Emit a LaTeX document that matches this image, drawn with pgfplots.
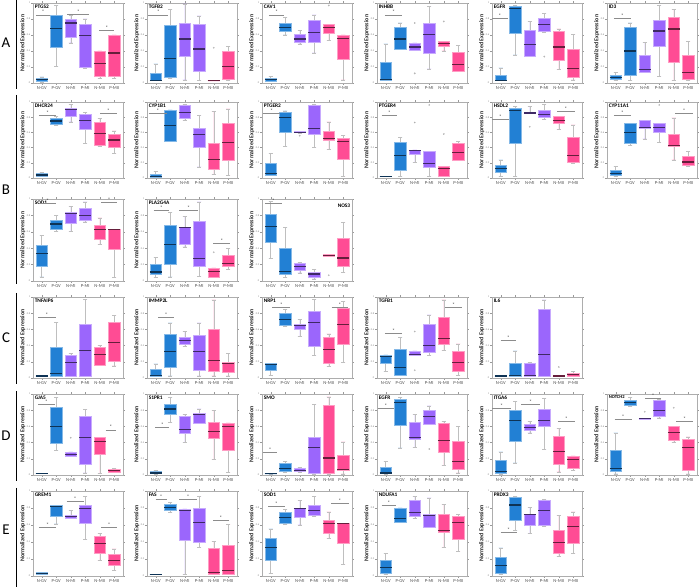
\documentclass[border=0pt]{standalone}
\usepackage{fontspec}
\setmainfont{Carlito}
\usepackage{pgfplots}
\pgfplotsset{compat=1.18}
\usepgfplotslibrary{statistics}
\definecolor{cA}{RGB}{34,128,212}
\definecolor{cB}{RGB}{155,102,252}
\definecolor{cC}{RGB}{255,76,148}
\newcommand{\gfont}{\fontsize{5.4}{6}\selectfont\bfseries}
\pgfplotsset{
  pan/.style={
    scale only axis, width=90bp, height=#1, anchor=south west,
    xmin=0.4, xmax=6.6, ymin=0, ymax=1, clip=false,
    xtick={1,...,6}, xticklabels={N-GV,P-GV,N-MI,P-MI,N-MII,P-MII},
    ytick={0,0.2,0.4,0.6,0.8,1},
    /pgf/number format/assume math mode=true,
    tick align=outside, major tick length=1.6bp,
    tick style={black!40, line width=0.3pt},
    x tick label style={font=\fontsize{4.6}{5}\selectfont, text=black!70, inner sep=1.5bp},
    y tick label style={font=\fontsize{2.6}{3}\selectfont, text=black!50, inner sep=1bp},
    axis line style={black!32, line width=0.9pt},
    ylabel={Normalized Expression},
    ylabel style={font=\fontsize{6}{7}\selectfont\bfseries, text=black!85, at={(axis description cs:-0.115,0.5)}, anchor=center},
  }
}
\newcommand{\bx}[8]{\addplot[
  boxplot/draw direction=y,
  boxplot prepared={draw direction=y, draw position=#1, lower whisker=#3, lower quartile=#4, median=#5, upper quartile=#6, upper whisker=#7, box extend=0.8, whisker extend=0.3},
  fill=#2, draw=#2!55!white, line width=0.7pt,
  boxplot/every whisker/.style={draw=black!25, line width=0.45pt},
  boxplot/every median/.style={draw=#2!40!black, line width=1.1pt},
  mark=o, mark size=0.7pt, mark options={draw=black!35, fill=white, line width=0.3pt}
] coordinates {#8};}
\newcommand{\sig}[3]{\draw[black!45, line width=0.9pt] (axis cs:#1,#3) -- (axis cs:#2,#3) node[midway, above, inner sep=0.6bp, font=\fontsize{5}{5}\selectfont, text=black!85]{*};}
\newcommand{\gname}[1]{\node[anchor=north west, inner sep=1.6bp, font=\gfont] at (rel axis cs:0,1) {#1};}
\begin{document}
\begin{tikzpicture}
\path[use as bounding box] (0,0) rectangle (700bp,587bp);
% row letters and lines
\node[font=\fontsize{15}{16}\selectfont] at (6bp,544bp) {A};
\node[font=\fontsize{15}{16}\selectfont] at (6bp,397bp) {B};
\node[font=\fontsize{15}{16}\selectfont] at (6bp,249bp) {C};
\node[font=\fontsize{15}{16}\selectfont] at (6bp,151bp) {D};
\node[font=\fontsize{15}{16}\selectfont] at (6bp,57bp) {E};
\draw[line width=0.8pt] (16.5bp,587bp) -- (16.5bp,498bp);
\draw[line width=0.8pt] (16.5bp,492bp) -- (16.5bp,303bp);
\draw[line width=0.8pt] (16.5bp,294bp) -- (16.5bp,203bp);
\draw[line width=0.8pt] (16.5bp,196bp) -- (16.5bp,106bp);
\draw[line width=0.8pt] (16.5bp,99bp) -- (16.5bp,0bp);

% ================= ROW A =================
\begin{axis}[pan=80bp, at={(33bp,504bp)}]
\gname{PTGS2}
\bx{1}{cA}{0.015}{0.02}{0.04}{0.06}{0.075}{}
\bx{2}{cA}{0.21}{0.44}{0.68}{0.84}{0.97}{}
\bx{3}{cB}{0.5}{0.575}{0.75}{0.80}{0.85}{}
\bx{4}{cB}{0.19}{0.196}{0.59}{0.73}{0.80}{}
\bx{5}{cC}{0.06}{0.083}{0.24}{0.40}{0.40}{}
\bx{6}{cC}{0.054}{0.083}{0.375}{0.60}{0.60}{}
\sig{0.6}{1.6}{0.85}\sig{2.77}{4.27}{0.86}\sig{4.96}{6.0}{0.66}
\end{axis}
\begin{axis}[pan=80bp, at={(147bp,504bp)}]
\gname{TGFB2}
\bx{1}{cA}{0.03}{0.03}{0.03}{0.125}{0.24}{}
\bx{2}{cA}{0.06}{0.07}{0.31}{0.72}{0.92}{}
\bx{3}{cB}{0.04}{0.33}{0.55}{0.75}{0.99}{}
\bx{4}{cB}{0.03}{0.15}{0.425}{0.73}{0.84}{}
\bx{5}{cC}{0.03}{0.03}{0.03}{0.03}{0.03}{(0,0.44)}
\bx{6}{cC}{0.03}{0.04}{0.21}{0.40}{0.46}{}
\sig{0.5}{1.88}{0.85}
\end{axis}
\begin{axis}[pan=80bp, at={(262bp,504bp)}]
\gname{CAV1}
\bx{1}{cA}{0.02}{0.025}{0.04}{0.06}{0.08}{}
\bx{2}{cA}{0.6}{0.64}{0.69}{0.75}{0.82}{}
\bx{3}{cB}{0.49}{0.51}{0.55}{0.61}{0.66}{}
\bx{4}{cB}{0.375}{0.51}{0.63}{0.78}{0.85}{}
\bx{5}{cC}{0.53}{0.62}{0.69}{0.73}{0.73}{(0,0.97)}
\bx{6}{cC}{0.04}{0.29}{0.56}{0.60}{0.60}{}
\sig{0.88}{1.94}{0.85}
\end{axis}
\begin{axis}[pan=80bp, at={(377bp,504bp)}]
\gname{INHBB}
\bx{1}{cA}{0.03}{0.03}{0.04}{0.26}{0.49}{}
\bx{2}{cA}{0.42}{0.42}{0.55}{0.69}{0.75}{}
\bx{3}{cB}{0.41}{0.41}{0.45}{0.50}{0.50}{(0,0.75) (0,0.12)}
\bx{4}{cB}{0.175}{0.375}{0.61}{0.75}{0.96}{}
\bx{5}{cC}{0.40}{0.46}{0.49}{0.52}{0.52}{(0,0.77)}
\bx{6}{cC}{0.15}{0.15}{0.23}{0.38}{0.47}{}
\sig{0.95}{2.14}{0.85}
\end{axis}
\begin{axis}[pan=80bp, at={(492bp,504bp)}]
\gname{EGFR}
\bx{1}{cA}{0.03}{0.03}{0.03}{0.10}{0.19}{}
\bx{2}{cA}{0.35}{0.625}{0.93}{0.96}{0.97}{}
\bx{3}{cB}{0.33}{0.33}{0.48}{0.66}{0.77}{}
\bx{4}{cB}{0.64}{0.64}{0.73}{0.81}{0.87}{(0,0.33)}
\bx{5}{cC}{0.17}{0.28}{0.45}{0.65}{0.675}{}
\bx{6}{cC}{0.04}{0.07}{0.18}{0.425}{0.61}{}
\sig{0.41}{1.47}{0.81}
\end{axis}
\begin{axis}[pan=80bp, at={(607bp,504bp)}]
\gname{ID3}
\bx{1}{cA}{0.03}{0.05}{0.07}{0.10}{0.13}{}
\bx{2}{cA}{0.03}{0.10}{0.40}{0.69}{0.75}{}
\bx{3}{cB}{0.13}{0.13}{0.17}{0.35}{0.51}{}
\bx{4}{cB}{0.08}{0.46}{0.65}{0.78}{0.97}{}
\bx{5}{cC}{0.03}{0.26}{0.675}{0.825}{0.92}{}
\bx{6}{cC}{0.03}{0.05}{0.13}{0.35}{0.52}{}
\sig{0.88}{2.02}{0.81}
\end{axis}

% ================= ROW B1 =================
\begin{axis}[pan=76bp, at={(33bp,409bp)}]
\gname{DHCR24}
\bx{1}{cA}{0.02}{0.025}{0.04}{0.06}{0.07}{}
\bx{2}{cA}{0.69}{0.71}{0.75}{0.78}{0.81}{}
\bx{3}{cB}{0.74}{0.81}{0.90}{0.91}{0.97}{}
\bx{4}{cB}{0.46}{0.64}{0.755}{0.84}{0.865}{}
\bx{5}{cC}{0.42}{0.43}{0.59}{0.73}{0.78}{}
\bx{6}{cC}{0.325}{0.40}{0.50}{0.57}{0.62}{}
\sig{0.81}{2.0}{0.82}\sig{5.02}{6.17}{0.845}
\end{axis}
\begin{axis}[pan=76bp, at={(147bp,409bp)}]
\gname{CYP1B1}
\bx{1}{cA}{0.01}{0.01}{0.025}{0.05}{0.085}{}
\bx{2}{cA}{0.485}{0.485}{0.69}{0.885}{0.895}{}
\bx{3}{cB}{0.76}{0.79}{0.86}{0.95}{0.97}{}
\bx{4}{cB}{0.145}{0.40}{0.575}{0.65}{0.82}{}
\bx{5}{cC}{0.05}{0.12}{0.24}{0.45}{0.88}{}
\bx{6}{cC}{0.03}{0.23}{0.47}{0.72}{0.91}{}
\sig{0.51}{1.8}{0.845}
\end{axis}
\begin{axis}[pan=76bp, at={(262bp,409bp)}]
\gname{PTGER2}
\bx{1}{cA}{0.03}{0.04}{0.06}{0.19}{0.325}{}
\bx{2}{cA}{0.42}{0.60}{0.80}{0.87}{0.885}{}
\bx{3}{cB}{0.595}{0.595}{0.60}{0.61}{0.61}{(0,0.557)}
\bx{4}{cB}{0.40}{0.58}{0.65}{0.96}{0.965}{}
\bx{5}{cC}{0.38}{0.49}{0.52}{0.62}{0.74}{}
\bx{6}{cC}{0.02}{0.24}{0.48}{0.52}{0.56}{}
\sig{0.47}{1.67}{0.845}
\end{axis}
\begin{axis}[pan=76bp, at={(377bp,409bp)}]
\gname{PTGER4}
\bx{1}{cA}{0.02}{0.02}{0.02}{0.02}{0.02}{}
\bx{2}{cA}{0.02}{0.10}{0.295}{0.47}{0.535}{}
\bx{3}{cB}{0.21}{0.31}{0.365}{0.37}{0.37}{(0,0.73)}
\bx{4}{cB}{0.02}{0.145}{0.185}{0.355}{0.355}{(0,0.96)}
\bx{5}{cC}{0.02}{0.02}{0.12}{0.15}{0.15}{(0,0.58)}
\bx{6}{cC}{0.23}{0.23}{0.34}{0.45}{0.485}{}
\sig{0.71}{1.79}{0.82}
\end{axis}
\begin{axis}[pan=76bp, at={(492bp,409bp)}]
\gname{HSDL2}
\bx{1}{cA}{0.02}{0.07}{0.125}{0.17}{0.24}{}
\bx{2}{cA}{0.02}{0.45}{0.885}{0.915}{0.945}{}
\bx{3}{cB}{0.85}{0.85}{0.855}{0.86}{0.94}{(0,0.675)}
\bx{4}{cB}{0.77}{0.80}{0.83}{0.895}{0.965}{}
\bx{5}{cC}{0.64}{0.72}{0.76}{0.81}{0.81}{}
\bx{6}{cC}{0.20}{0.20}{0.295}{0.535}{0.70}{}
\sig{0.37}{1.59}{0.77}\sig{4.87}{6.11}{0.875}
\end{axis}
\begin{axis}[pan=76bp, at={(607bp,409bp)}]
\gname{CYP11A1}
\bx{1}{cA}{0.02}{0.03}{0.06}{0.10}{0.155}{}
\bx{2}{cA}{0.43}{0.45}{0.60}{0.72}{0.72}{}
\bx{3}{cB}{0.515}{0.65}{0.66}{0.76}{0.76}{}
\bx{4}{cB}{0.47}{0.60}{0.66}{0.72}{0.72}{(0,0.96)}
\bx{5}{cC}{0.24}{0.41}{0.43}{0.57}{0.79}{}
\bx{6}{cC}{0.155}{0.17}{0.21}{0.28}{0.355}{}
\sig{0.88}{2.02}{0.82}\sig{5.1}{6.33}{0.845}
\end{axis}

% ================= ROW B2 =================
\begin{axis}[pan=82bp, at={(33bp,306bp)}]
\gname{SOD1}
\bx{1}{cA}{0.05}{0.175}{0.33}{0.44}{0.555}{}
\bx{2}{cA}{0.605}{0.625}{0.695}{0.74}{0.80}{}
\bx{3}{cB}{0.605}{0.70}{0.82}{0.84}{0.91}{}
\bx{4}{cB}{0.72}{0.735}{0.80}{0.88}{0.965}{}
\bx{5}{cC}{0.45}{0.51}{0.63}{0.675}{0.77}{}
\bx{6}{cC}{0.04}{0.38}{0.63}{0.63}{0.63}{}
\sig{0.81}{2.0}{0.94}\sig{5.1}{6.17}{0.96}
\end{axis}
\begin{axis}[pan=82bp, at={(147bp,306bp)}]
\gname{PLA2G4A}
\bx{1}{cA}{0.045}{0.08}{0.11}{0.20}{0.29}{}
\bx{2}{cA}{0.05}{0.20}{0.44}{0.68}{0.84}{}
\bx{3}{cB}{0.415}{0.45}{0.655}{0.655}{0.79}{}
\bx{4}{cB}{0.06}{0.18}{0.27}{0.73}{0.965}{}
\bx{5}{cC}{0.04}{0.045}{0.12}{0.16}{0.16}{(0,0.35)}
\bx{6}{cC}{0.14}{0.175}{0.21}{0.31}{0.40}{}
\sig{0.86}{1.92}{0.86}\sig{2.62}{3.91}{0.86}\sig{4.97}{6.14}{0.46}
\end{axis}
\begin{axis}[pan=82bp, at={(262bp,306bp)}]
\node[anchor=north east, inner sep=1.6bp, font=\gfont] at (rel axis cs:1,0.96) {NOS3};
\bx{1}{cA}{0.28}{0.47}{0.665}{0.81}{0.97}{}
\bx{2}{cA}{0.045}{0.08}{0.12}{0.395}{0.655}{}
\bx{3}{cB}{0.10}{0.13}{0.18}{0.22}{0.23}{}
\bx{4}{cB}{0.025}{0.05}{0.085}{0.11}{0.14}{}
\bx{5}{cC}{0.30}{0.30}{0.31}{0.32}{0.32}{(0,0.07)}
\bx{6}{cC}{0.105}{0.18}{0.28}{0.525}{0.715}{}
\sig{0.59}{1.79}{0.94}
\end{axis}

% ================= ROW C =================
\begin{axis}[pan=81bp, at={(33bp,209bp)}]
\gname{TNFAIP6}
\bx{1}{cA}{0.025}{0.025}{0.025}{0.025}{0.025}{}
\bx{2}{cA}{0.025}{0.025}{0.06}{0.375}{0.69}{}
\bx{3}{cB}{0.025}{0.025}{0.19}{0.28}{0.30}{}
\bx{4}{cB}{0.025}{0.025}{0.335}{0.66}{0.97}{}
\bx{5}{cC}{0.16}{0.16}{0.285}{0.375}{0.40}{}
\bx{6}{cC}{0.15}{0.20}{0.44}{0.69}{0.77}{}
\sig{0.76}{1.96}{0.75}
\end{axis}
\begin{axis}[pan=81bp, at={(147bp,209bp)}]
\gname{IMMP2L}
\bx{1}{cA}{0.025}{0.025}{0.035}{0.11}{0.175}{}
\bx{2}{cA}{0.025}{0.13}{0.325}{0.545}{0.68}{}
\bx{3}{cB}{0.39}{0.42}{0.46}{0.50}{0.575}{}
\bx{4}{cB}{0.025}{0.095}{0.325}{0.53}{0.68}{}
\bx{5}{cC}{0.025}{0.08}{0.215}{0.595}{0.965}{}
\bx{6}{cC}{0.025}{0.075}{0.18}{0.19}{0.305}{}
\sig{1.16}{2.27}{0.75}
\end{axis}
\begin{axis}[pan=81bp, at={(262bp,209bp)}]
\gname{NRP1}
\bx{1}{cA}{0.035}{0.095}{0.165}{0.18}{0.18}{}
\bx{2}{cA}{0.64}{0.65}{0.72}{0.80}{0.85}{}
\bx{3}{cB}{0.51}{0.60}{0.65}{0.665}{0.72}{}
\bx{4}{cB}{0.28}{0.39}{0.69}{0.82}{0.97}{}
\bx{5}{cC}{0.14}{0.18}{0.35}{0.50}{0.545}{}
\bx{6}{cC}{0.195}{0.42}{0.655}{0.855}{0.945}{}
\sig{1.1}{2.36}{0.87}\sig{5.2}{6.34}{0.87}
\end{axis}
\begin{axis}[pan=81bp, at={(377bp,209bp)}]
\gname{TGFB1}
\bx{1}{cA}{0.08}{0.175}{0.26}{0.285}{0.285}{}
\bx{2}{cA}{0.035}{0.035}{0.135}{0.355}{0.50}{}
\bx{3}{cB}{0.275}{0.275}{0.285}{0.335}{0.335}{(0,0.575) (0,0.095)}
\bx{4}{cB}{0.275}{0.315}{0.40}{0.66}{0.78}{}
\bx{5}{cC}{0.34}{0.42}{0.49}{0.75}{0.965}{}
\bx{6}{cC}{0.035}{0.08}{0.195}{0.335}{0.42}{}
\sig{0.95}{2.14}{0.55}\sig{5.1}{6.24}{0.87}
\end{axis}
\begin{axis}[pan=81bp, at={(492bp,209bp)}]
\gname{IL6}
\bx{1}{cA}{0.025}{0.025}{0.025}{0.025}{0.025}{}
\bx{2}{cA}{0.025}{0.025}{0.03}{0.18}{0.335}{}
\bx{3}{cB}{0.025}{0.025}{0.035}{0.185}{0.19}{}
\bx{4}{cB}{0.025}{0.025}{0.295}{0.85}{0.965}{}
\bx{5}{cC}{0.025}{0.025}{0.025}{0.025}{0.025}{(0,0.135)}
\bx{6}{cC}{0.025}{0.025}{0.04}{0.055}{0.085}{}
\sig{1.0}{2.06}{0.46}
\end{axis}

% ================= ROW D =================
\begin{axis}[pan=81bp, at={(33bp,112bp)}]
\gname{GJA5}
\bx{1}{cA}{0.02}{0.02}{0.02}{0.02}{0.02}{}
\bx{2}{cA}{0.305}{0.39}{0.60}{0.83}{0.955}{}
\bx{3}{cB}{0.23}{0.23}{0.255}{0.285}{0.285}{(0,0.46)}
\bx{4}{cB}{0.025}{0.13}{0.46}{0.72}{0.81}{}
\bx{5}{cC}{0.02}{0.255}{0.41}{0.46}{0.46}{}
\bx{6}{cC}{0.035}{0.035}{0.05}{0.065}{0.08}{}
\sig{0.76}{1.89}{0.865}\sig{5.4}{6.12}{0.555}
\end{axis}
\begin{axis}[pan=81bp, at={(147bp,112bp)}]
\gname{S1PR1}
\bx{1}{cA}{0.015}{0.015}{0.025}{0.045}{0.06}{}
\bx{2}{cA}{0.65}{0.75}{0.815}{0.87}{0.955}{}
\bx{3}{cB}{0.40}{0.51}{0.56}{0.72}{0.75}{}
\bx{4}{cB}{0.635}{0.635}{0.75}{0.76}{0.815}{}
\bx{5}{cC}{0.19}{0.45}{0.54}{0.655}{0.80}{}
\bx{6}{cC}{0.035}{0.30}{0.595}{0.635}{0.645}{}
\sig{0.98}{1.92}{0.585}
\end{axis}
\begin{axis}[pan=81bp, at={(262bp,112bp)}]
\gname{SMO}
\bx{1}{cA}{0.015}{0.015}{0.015}{0.015}{0.015}{}
\bx{2}{cA}{0.04}{0.04}{0.08}{0.14}{0.17}{}
\bx{3}{cB}{0.04}{0.04}{0.06}{0.08}{0.09}{}
\bx{4}{cB}{0.015}{0.015}{0.335}{0.46}{0.875}{}
\bx{5}{cC}{0.015}{0.015}{0.21}{0.865}{0.965}{}
\bx{6}{cC}{0.015}{0.06}{0.065}{0.245}{0.41}{}
\sig{0.5}{1.43}{0.275}
\end{axis}
\begin{axis}[pan=81bp, at={(377bp,112bp)}]
\gname{EGFR}
\bx{1}{cA}{0.015}{0.015}{0.025}{0.10}{0.17}{}
\bx{2}{cA}{0.335}{0.615}{0.90}{0.935}{0.955}{}
\bx{3}{cB}{0.34}{0.44}{0.46}{0.645}{0.75}{}
\bx{4}{cB}{0.625}{0.625}{0.72}{0.80}{0.855}{(0,0.32)}
\bx{5}{cC}{0.12}{0.275}{0.43}{0.635}{0.665}{}
\bx{6}{cC}{0.025}{0.065}{0.17}{0.415}{0.60}{}
\sig{0.48}{1.55}{0.82}
\end{axis}
\begin{axis}[pan=81bp, at={(492bp,112bp)}]
\gname{ITGA6}
\bx{1}{cA}{0.015}{0.025}{0.045}{0.175}{0.285}{}
\bx{2}{cA}{0.15}{0.415}{0.675}{0.80}{0.91}{}
\bx{3}{cB}{0.52}{0.55}{0.59}{0.62}{0.665}{}
\bx{4}{cB}{0.32}{0.595}{0.67}{0.81}{0.945}{}
\bx{5}{cC}{0.04}{0.13}{0.295}{0.48}{0.575}{}
\bx{6}{cC}{0.06}{0.085}{0.195}{0.23}{0.235}{}
\sig{0.41}{1.70}{0.82}\sig{2.41}{3.70}{0.875}\sig{4.94}{6.12}{0.655}
\end{axis}
\begin{axis}[pan=81bp, at={(607bp,112bp)}]
\node[anchor=north west, inner sep=1.6bp, font=\fontsize{4.6}{5}\selectfont\bfseries] at (rel axis cs:0,1) {NOTCH2};
\bx{1}{cA}{0.015}{0.045}{0.08}{0.305}{0.52}{}
\bx{2}{cA}{0.845}{0.865}{0.895}{0.925}{0.955}{}
\bx{3}{cB}{0.69}{0.69}{0.695}{0.70}{0.70}{(0,0.78)}
\bx{4}{cB}{0.705}{0.72}{0.80}{0.925}{0.94}{}
\bx{5}{cC}{0.40}{0.43}{0.52}{0.595}{0.595}{(0,0.83)}
\bx{6}{cC}{0.015}{0.055}{0.345}{0.435}{0.47}{}
\sig{0.93}{2.10}{0.69}\sig{3.04}{4.10}{0.94}\sig{5.16}{6.33}{0.655}
\end{axis}

% ================= ROW E =================
\begin{axis}[pan=85bp, at={(33bp,11bp)}]
\gname{GREM1}
\bx{1}{cA}{0.02}{0.02}{0.03}{0.04}{0.04}{}
\bx{2}{cA}{0.615}{0.705}{0.82}{0.83}{0.83}{}
\bx{3}{cB}{0.675}{0.675}{0.705}{0.715}{0.77}{}
\bx{4}{cB}{0.435}{0.625}{0.79}{0.83}{0.94}{}
\bx{5}{cC}{0.18}{0.27}{0.38}{0.47}{0.50}{}
\bx{6}{cC}{0.07}{0.12}{0.18}{0.26}{0.32}{}
\sig{0.81}{2.0}{0.575}\sig{2.71}{3.9}{0.88}\sig{5.1}{6.17}{0.575}
\end{axis}
\begin{axis}[pan=85bp, at={(147bp,11bp)}]
\gname{FAS}
\bx{1}{cA}{0.02}{0.02}{0.02}{0.02}{0.02}{}
\bx{2}{cA}{0.745}{0.775}{0.81}{0.84}{0.87}{}
\bx{3}{cB}{0.02}{0.42}{0.77}{0.79}{0.79}{}
\bx{4}{cB}{0.34}{0.40}{0.625}{0.80}{0.94}{}
\bx{5}{cC}{0.02}{0.02}{0.04}{0.33}{0.41}{}
\bx{6}{cC}{0.02}{0.02}{0.07}{0.36}{0.605}{}
\sig{1.0}{1.75}{0.895}\sig{2.62}{3.86}{0.90}\sig{4.97}{6.02}{0.655}
\end{axis}
\begin{axis}[pan=85bp, at={(262bp,11bp)}]
\gname{SOD1}
\bx{1}{cA}{0.03}{0.18}{0.33}{0.44}{0.555}{}
\bx{2}{cA}{0.605}{0.625}{0.685}{0.745}{0.785}{}
\bx{3}{cB}{0.60}{0.69}{0.795}{0.80}{0.89}{}
\bx{4}{cB}{0.70}{0.715}{0.775}{0.83}{0.94}{}
\bx{5}{cC}{0.44}{0.50}{0.62}{0.66}{0.755}{}
\bx{6}{cC}{0.14}{0.38}{0.615}{0.62}{0.62}{}
\sig{0.83}{1.96}{0.815}\sig{5.16}{6.36}{0.855}
\end{axis}
\begin{axis}[pan=85bp, at={(377bp,11bp)}]
\gname{NDUFA1}
\bx{1}{cA}{0.02}{0.035}{0.10}{0.18}{0.27}{}
\bx{2}{cA}{0.635}{0.635}{0.68}{0.80}{0.80}{}
\bx{3}{cB}{0.675}{0.705}{0.75}{0.895}{0.935}{}
\bx{4}{cB}{0.575}{0.575}{0.715}{0.73}{0.92}{}
\bx{5}{cC}{0.34}{0.515}{0.53}{0.725}{0.845}{}
\bx{6}{cC}{0.29}{0.43}{0.625}{0.705}{0.725}{}
\sig{0.72}{1.73}{0.825}
\end{axis}
\begin{axis}[pan=85bp, at={(492bp,11bp)}]
\gname{PRDX3}
\bx{1}{cA}{0.02}{0.035}{0.125}{0.225}{0.33}{}
\bx{2}{cA}{0.54}{0.655}{0.835}{0.92}{0.935}{}
\bx{3}{cB}{0.50}{0.60}{0.725}{0.73}{0.81}{}
\bx{4}{cB}{0.585}{0.60}{0.77}{0.89}{0.90}{}
\bx{5}{cC}{0.23}{0.265}{0.39}{0.535}{0.715}{}
\bx{6}{cC}{0.27}{0.39}{0.585}{0.705}{0.755}{}
\sig{1.0}{2.1}{0.51}
\end{axis}
\end{tikzpicture}
\end{document}
